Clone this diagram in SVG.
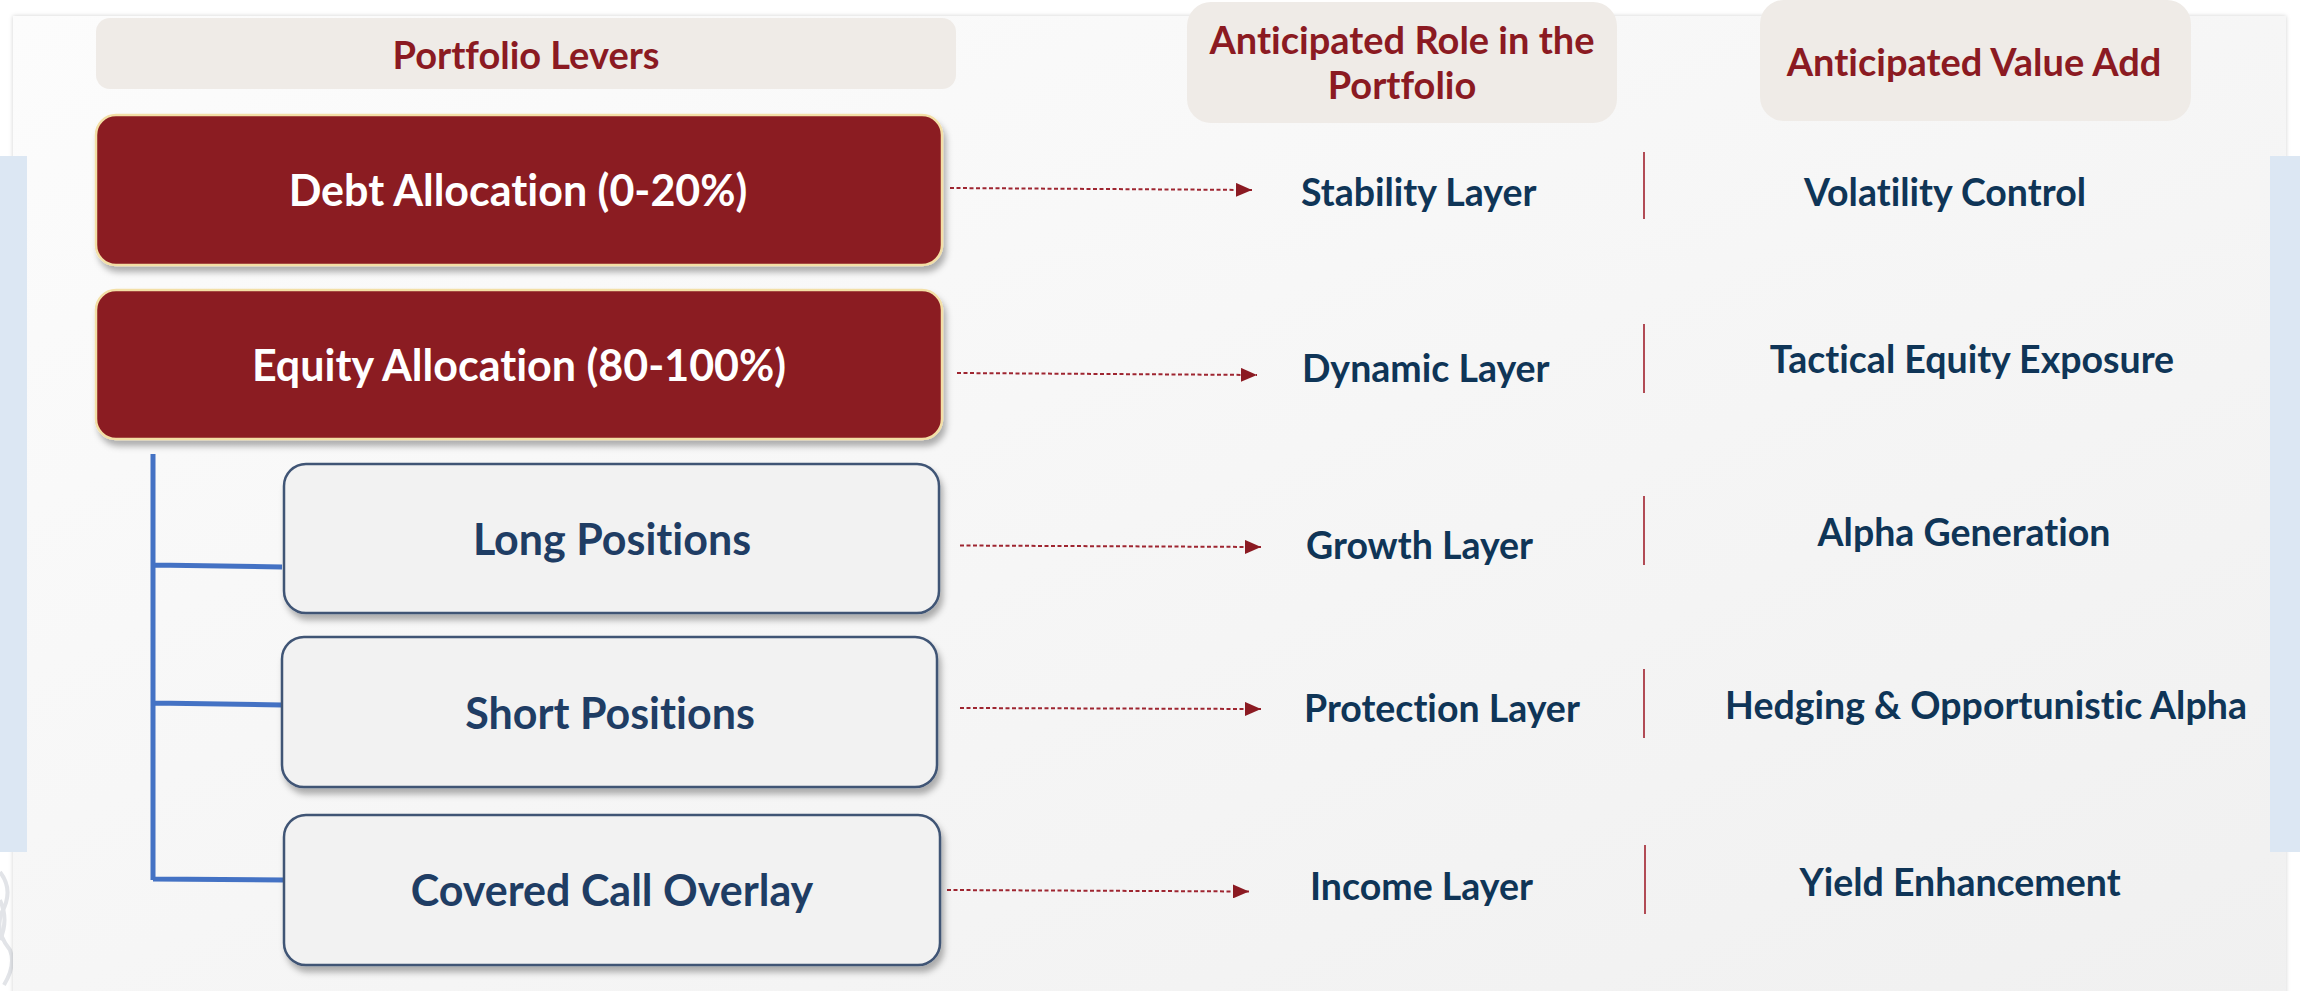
<svg xmlns="http://www.w3.org/2000/svg" width="2300" height="991" viewBox="0 0 2300 991">
<defs>
  <linearGradient id="panelGrad" x1="0" y1="0" x2="1" y2="1">
    <stop offset="0" stop-color="#fcfcfc"/>
    <stop offset="1" stop-color="#f0f0f0"/>
  </linearGradient>
  <filter id="shadow" x="-5%" y="-10%" width="115%" height="130%">
    <feDropShadow dx="3" dy="6" stdDeviation="3" flood-color="#000" flood-opacity="0.3"/>
  </filter>
  <filter id="panelShadow" x="-2%" y="-2%" width="104%" height="104%">
    <feDropShadow dx="0" dy="0" stdDeviation="2" flood-color="#000" flood-opacity="0.18"/>
  </filter>
  <marker id="arrow" markerUnits="userSpaceOnUse" markerWidth="16" markerHeight="14" refX="16" refY="7" orient="auto">
    <path d="M0,0 L16,7 L0,14 Z" fill="#8b1a22"/>
  </marker>
  <style>
    text { font-family: Lato, "Liberation Sans", sans-serif; font-weight: bold; font-variant-ligatures: none; }
    .hdr { fill: #efebe7; }
    .hdrText { fill: #8b1a22; font-size: 38px; text-anchor: middle; }
    .redBox { fill: #8b1a22; stroke: #f3dfa6; stroke-width: 2.5; filter: url(#shadow); }
    .grayBox { fill: #f2f2f2; stroke: #3f5475; stroke-width: 2.5; filter: url(#shadow); }
    .redText { fill: #ffffff; font-size: 43px; text-anchor: middle; }
    .grayText { fill: #1f3d64; font-size: 43px; text-anchor: middle; }
    .layer { fill: #0f3557; font-size: 37.5px; }
    .value { fill: #0f3557; font-size: 37.5px; text-anchor: middle; }
    .conn { stroke: #9e2530; stroke-width: 2; stroke-dasharray: 4 2.5; fill: none; marker-end: url(#arrow); }
    .sep { stroke: #a0202c; stroke-width: 1.6; }
    .bracket { stroke: #4472c4; stroke-width: 5; fill: none; }
    .strip { fill: #dce7f3; }
    .swirl { stroke: #e2e4e8; stroke-width: 4; fill: none; }
  </style>
</defs>

<rect x="0" y="0" width="2300" height="991" fill="#ffffff"/>

<g id="decor">
  <path class="swirl" d="M0,872 Q14,890 2,912 Q-6,930 10,950 Q16,965 4,985"/>
  <path class="swirl" d="M0,900 Q9,920 0,940"/>
</g>

<g id="panel">
  <rect x="13" y="16" width="2273" height="990" fill="url(#panelGrad)" filter="url(#panelShadow)"/>
</g>

<g id="strips">
  <rect class="strip" x="0" y="156" width="27" height="696"/>
  <rect class="strip" x="2270" y="156" width="30" height="696"/>
</g>

<g id="header-levers">
  <rect class="hdr" x="96" y="18" width="860" height="71" rx="14"/>
  <text class="hdrText" x="526" y="69">Portfolio Levers</text>
</g>
<g id="header-role">
  <rect class="hdr" x="1187" y="2" width="430" height="121" rx="24"/>
  <text class="hdrText" x="1402" y="54">Anticipated Role in the</text>
  <text class="hdrText" x="1402" y="99">Portfolio</text>
</g>
<g id="header-value">
  <rect class="hdr" x="1760" y="0" width="431" height="121" rx="24"/>
  <text class="hdrText" x="1974" y="76">Anticipated Value Add</text>
</g>

<g id="connectors">
  <path class="bracket" d="M153,454 V880 M153,565 L282,567 M153,703 L282,705 M153,879 L284,880"/>
  <line class="conn" x1="950" y1="188" x2="1252" y2="190"/>
  <line class="conn" x1="957" y1="373" x2="1257" y2="375"/>
  <line class="conn" x1="960" y1="545.5" x2="1261" y2="547"/>
  <line class="conn" x1="960" y1="708" x2="1261" y2="709"/>
  <line class="conn" x1="947" y1="890" x2="1249" y2="891.5"/>
  <line class="sep" x1="1644" y1="152" x2="1644" y2="219"/>
  <line class="sep" x1="1644" y1="324" x2="1644" y2="393"/>
  <line class="sep" x1="1644" y1="496" x2="1644" y2="565"/>
  <line class="sep" x1="1644" y1="669" x2="1644" y2="738"/>
  <line class="sep" x1="1645" y1="845" x2="1645" y2="914"/>
</g>

<g id="node-debt">
  <rect class="redBox" x="96" y="115" width="846" height="150" rx="20"/>
  <text class="redText" x="518" y="206">Debt Allocation (0-20%)</text>
</g>
<g id="node-equity">
  <rect class="redBox" x="96" y="290" width="846" height="149" rx="20"/>
  <text class="redText" x="519" y="381">Equity Allocation (80-100%)</text>
</g>
<g id="node-long">
  <rect class="grayBox" x="284" y="464" width="655" height="149" rx="22"/>
  <text class="grayText" x="612" y="555">Long Positions</text>
</g>
<g id="node-short">
  <rect class="grayBox" x="282" y="637" width="655" height="150" rx="22"/>
  <text class="grayText" x="610" y="729">Short Positions</text>
</g>
<g id="node-covered">
  <rect class="grayBox" x="284" y="815" width="656" height="150" rx="22"/>
  <text class="grayText" x="612" y="906">Covered Call Overlay</text>
</g>

<g id="role-stability"><text class="layer" x="1301" y="206">Stability Layer</text></g>
<g id="role-dynamic"><text class="layer" x="1302" y="382">Dynamic Layer</text></g>
<g id="role-growth"><text class="layer" x="1306" y="559">Growth Layer</text></g>
<g id="role-protection"><text class="layer" x="1304" y="722">Protection Layer</text></g>
<g id="role-income"><text class="layer" x="1310" y="900">Income Layer</text></g>

<g id="value-volatility"><text class="value" x="1945" y="206">Volatility Control</text></g>
<g id="value-tactical"><text class="value" x="1972" y="373">Tactical Equity Exposure</text></g>
<g id="value-alpha"><text class="value" x="1964" y="546">Alpha Generation</text></g>
<g id="value-hedging"><text class="value" x="1986" y="719">Hedging &amp; Opportunistic Alpha</text></g>
<g id="value-yield"><text class="value" x="1960" y="896">Yield Enhancement</text></g>
</svg>
